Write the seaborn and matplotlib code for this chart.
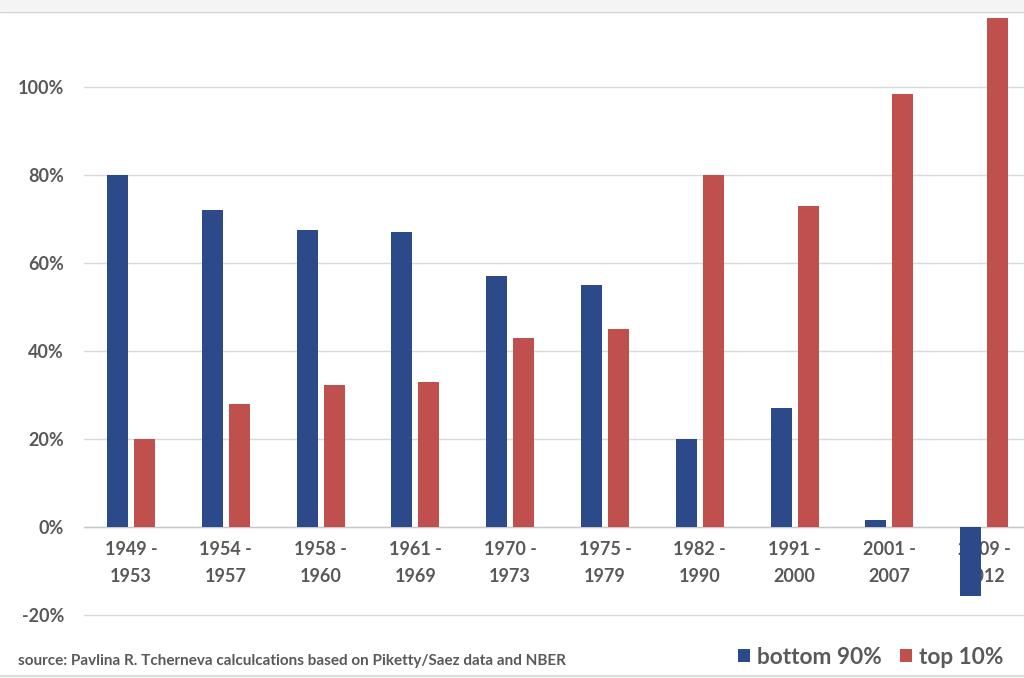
import numpy as np
import pandas as pd
import matplotlib
matplotlib.use("Agg")
import matplotlib.pyplot as plt
from matplotlib.patches import Rectangle, Patch
from matplotlib.lines import Line2D
import seaborn as sns

periods = ["1949 -\n1953", "1954 -\n1957", "1958 -\n1960", "1961 -\n1969", "1970 -\n1973",
           "1975 -\n1979", "1982 -\n1990", "1991 -\n2000", "2001 -\n2007", "2009 -\n2012"]
bottom90 = [80, 72, 67.5, 67, 57, 55, 20, 27, 1.6, -15.7]
top10 = [20, 28, 32.3, 33, 43, 45, 80, 73, 98.4, 115.7]
groups = ["bottom 90%", "top 10%"]
colors = ["#2C4A8A", "#C0504D"]
yticks = [-20, 0, 20, 40, 60, 80, 100]

df = pd.DataFrame({
    "period": periods * 2,
    "share": bottom90 + top10,
    "group": [groups[0]] * len(periods) + [groups[1]] * len(periods),
})

sns.set_style("whitegrid")
plt.rcParams["font.family"] = ["Lato", "DejaVu Sans"]

fig = plt.figure(figsize=(10.24, 6.78), dpi=100)
ax = fig.add_axes([83.6 / 1024, 0.0802, 948 / 1024, 0.902])

sns.barplot(data=df, x="period", y="share", hue="group", palette=colors, saturation=1,
            width=0.57, gap=0.22, ax=ax, legend=False, zorder=3, linewidth=0)

ax.set_xlim(-0.5, 9.5)
ax.set_ylim(-22, 117)
ax.set_yticks(yticks)
ax.set_yticklabels([f"{t}%" for t in yticks])
ax.set_xlabel("")
ax.set_ylabel("")

ax.grid(axis="y", color="#d9d9d9", linewidth=1)
ax.grid(axis="x", visible=False)
for s in ["top", "right", "left"]:
    ax.spines[s].set_visible(False)
ax.spines["bottom"].set_position(("data", 0))
ax.spines["bottom"].set_color("#c8c8c8")
ax.spines["bottom"].set_linewidth(1)

ax.tick_params(axis="y", length=0, pad=14, labelsize=13, labelcolor="#595959")
ax.tick_params(axis="x", length=0, pad=10, labelsize=13, labelcolor="#595959")
for lab in ax.get_xticklabels() + ax.get_yticklabels():
    lab.set_fontweight("bold")
for lab in ax.get_xticklabels():
    lab.set_linespacing(1.75)

# gray border lines from the screenshot
fig.patches.append(Rectangle((0, 1 - 11 / 678), 1, 11 / 678, transform=fig.transFigure,
                             facecolor="#f4f4f4", edgecolor="none"))
fig.lines.append(Line2D([0, 1], [1 - 11.5 / 678, 1 - 11.5 / 678], transform=fig.transFigure,
                        color="#d0d0d0", linewidth=1))
fig.lines.append(Line2D([0, 1], [2 / 678, 2 / 678], transform=fig.transFigure,
                        color="#dcdcdc", linewidth=1.5))

fig.text(18 / 1024, 1 - 661 / 678, "source: Pavlina R. Tcherneva calculcations based on Piketty/Saez data and NBER",
         fontsize=11, color="#595959", va="center", ha="left", fontweight="bold")

handles = [Patch(facecolor=c, edgecolor="none") for c in colors]
leg = fig.legend(handles, groups, loc="center right", bbox_to_anchor=(1024 / 1024, 1 - 657 / 678),
                 ncol=2, frameon=False, fontsize=16.3, handlelength=0.55, handleheight=0.55,
                 handletextpad=0.3, columnspacing=0.8, labelcolor="#595959")
for t in leg.get_texts():
    t.set_fontweight("bold")

fig.savefig("out.png", dpi=100)
